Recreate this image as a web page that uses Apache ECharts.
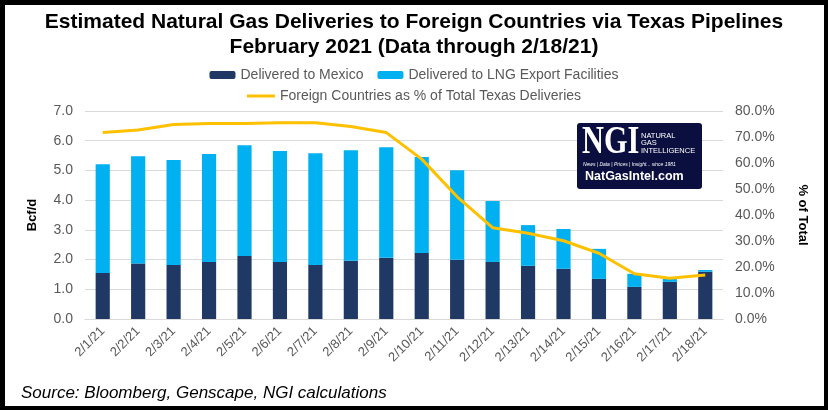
<!DOCTYPE html>
<html><head><meta charset="utf-8">
<script src="https://cdn.jsdelivr.net/npm/echarts@6/dist/echarts.min.js"></script>
<style>html,body{margin:0;padding:0;background:#fff}#c{width:828px;height:410px}</style>
</head><body><div id="c"></div>
<script>
const categories = ['2/1/21','2/2/21','2/3/21','2/4/21','2/5/21','2/6/21','2/7/21','2/8/21','2/9/21','2/10/21','2/11/21','2/12/21','2/13/21','2/14/21','2/15/21','2/16/21','2/17/21','2/18/21'];
const mexico = [1.55,1.87,1.82,1.92,2.12,1.92,1.82,1.96,2.06,2.22,1.99,1.92,1.79,1.69,1.35,1.08,1.25,1.59];
const lng = [3.66,3.61,3.53,3.63,3.73,3.73,3.76,3.72,3.72,3.23,3.02,2.05,1.37,1.34,1.01,0.44,0.10,0.06];
const pctForeign = [71.7,72.7,74.8,75.2,75.2,75.5,75.5,74.0,71.7,61.5,47.0,35.1,33.0,30.1,25.3,17.4,15.7,16.9];
const leftTicks = {min:0,max:7,interval:1};
const rightTicks = {min:0,max:80,interval:10};

const chart = echarts.init(document.getElementById('c'));
const FONT = 'Liberation Sans';
chart.setOption({
  animation:false,
  backgroundColor:'#fff',
  title:{
    text:'Estimated Natural Gas Deliveries to Foreign Countries via Texas Pipelines\nFebruary 2021 (Data through 2/18/21)',
    left:'center', top:5,
    textStyle:{fontFamily:FONT,fontWeight:'bold',fontSize:21,color:'#000',lineHeight:25}
  },
  legend:[
    {data:['Delivered to Mexico','Delivered to LNG Export Facilities'],top:63,left:'center',
     itemWidth:26,itemHeight:8,itemGap:14,itemStyle:{borderWidth:0},textStyle:{fontFamily:FONT,fontSize:14,color:'#595959'}},
    {data:[{name:'Foreign Countries as % of Total Texas Deliveries',icon:'rect'}],top:84,left:'center',
     itemWidth:28,itemHeight:3,textStyle:{fontFamily:FONT,fontSize:14,color:'#595959'}}
  ],
  grid:{left:85,right:105,top:111,bottom:91,containLabel:false},
  xAxis:{type:'category',data:categories,
    axisLine:{lineStyle:{color:'#d9d9d9'}},axisTick:{show:false},
    axisLabel:{rotate:45,fontFamily:FONT,fontSize:13,color:'#595959',margin:10,interval:0}},
  yAxis:[
    {type:'value',min:leftTicks.min,max:leftTicks.max,interval:leftTicks.interval,
     name:'Bcf/d',nameLocation:'middle',nameGap:46,nameRotate:90,
     nameTextStyle:{fontFamily:FONT,fontWeight:'bold',fontSize:13,color:'#000'},
     axisLabel:{formatter:v=>v.toFixed(1),fontFamily:FONT,fontSize:14,color:'#595959',margin:12},
     splitLine:{lineStyle:{color:'#d9d9d9'}},axisLine:{show:false},axisTick:{show:false}},
    {type:'value',min:rightTicks.min,max:rightTicks.max,interval:rightTicks.interval,
     name:'% of Total',nameLocation:'middle',nameGap:73,nameRotate:-90,
     nameTextStyle:{fontFamily:FONT,fontWeight:'bold',fontSize:13,color:'#000'},
     axisLabel:{formatter:v=>v.toFixed(1)+'%',fontFamily:FONT,fontSize:14,color:'#595959',margin:12},
     splitLine:{show:false},axisLine:{show:false},axisTick:{show:false}}
  ],
  series:[
    {name:'Delivered to Mexico',type:'bar',stack:'t',data:mexico,barWidth:'40%',itemStyle:{color:'#1F3864'}},
    {name:'Delivered to LNG Export Facilities',type:'bar',stack:'t',data:lng,barWidth:'40%',itemStyle:{color:'#00B0F0'}},
    {name:'Foreign Countries as % of Total Texas Deliveries',type:'line',yAxisIndex:1,data:pctForeign,
     showSymbol:false,symbol:'none',lineStyle:{color:'#FFC000',width:3},itemStyle:{color:'#FFC000'},z:5}
  ],
  graphic:[
    {type:'rect',left:0,top:0,shape:{x:2,y:2,width:824,height:406},style:{fill:'none',stroke:'#000',lineWidth:5},silent:true,z:100},
    {type:'text',left:21,top:385,style:{text:'Source: Bloomberg, Genscape, NGI calculations',fontFamily:FONT,fontStyle:'italic',fontSize:17,fill:'#000'}},
    {type:'group',left:577,top:122,z:50,children:[
      {type:'rect',z:50,shape:{x:0,y:0,width:125,height:66,r:3},style:{fill:'#0b0f3f'}},
      {type:'text',z:51,x:5,y:-1,scaleX:0.74,style:{text:'NGI',fontFamily:'Liberation Serif',fontWeight:'bold',fontSize:41,fill:'#fff'}},
      {type:'text',z:51,x:64,y:9,style:{text:'NATURAL\nGAS\nINTELLIGENCE',fontFamily:FONT,fontSize:7.5,lineHeight:7.5,fill:'#fff'}},
      {type:'text',z:51,x:6,y:38,scaleX:0.9,style:{text:'News | Data | Prices | Insight... since 1981',fontFamily:FONT,fontStyle:'italic',fontSize:5.5,fill:'#fff'}},
      {type:'text',z:51,x:8,y:47,style:{text:'NatGasIntel.com',fontFamily:FONT,fontWeight:'bold',fontSize:12.5,fill:'#fff'}}
    ]}
  ]
});
</script></body></html>
